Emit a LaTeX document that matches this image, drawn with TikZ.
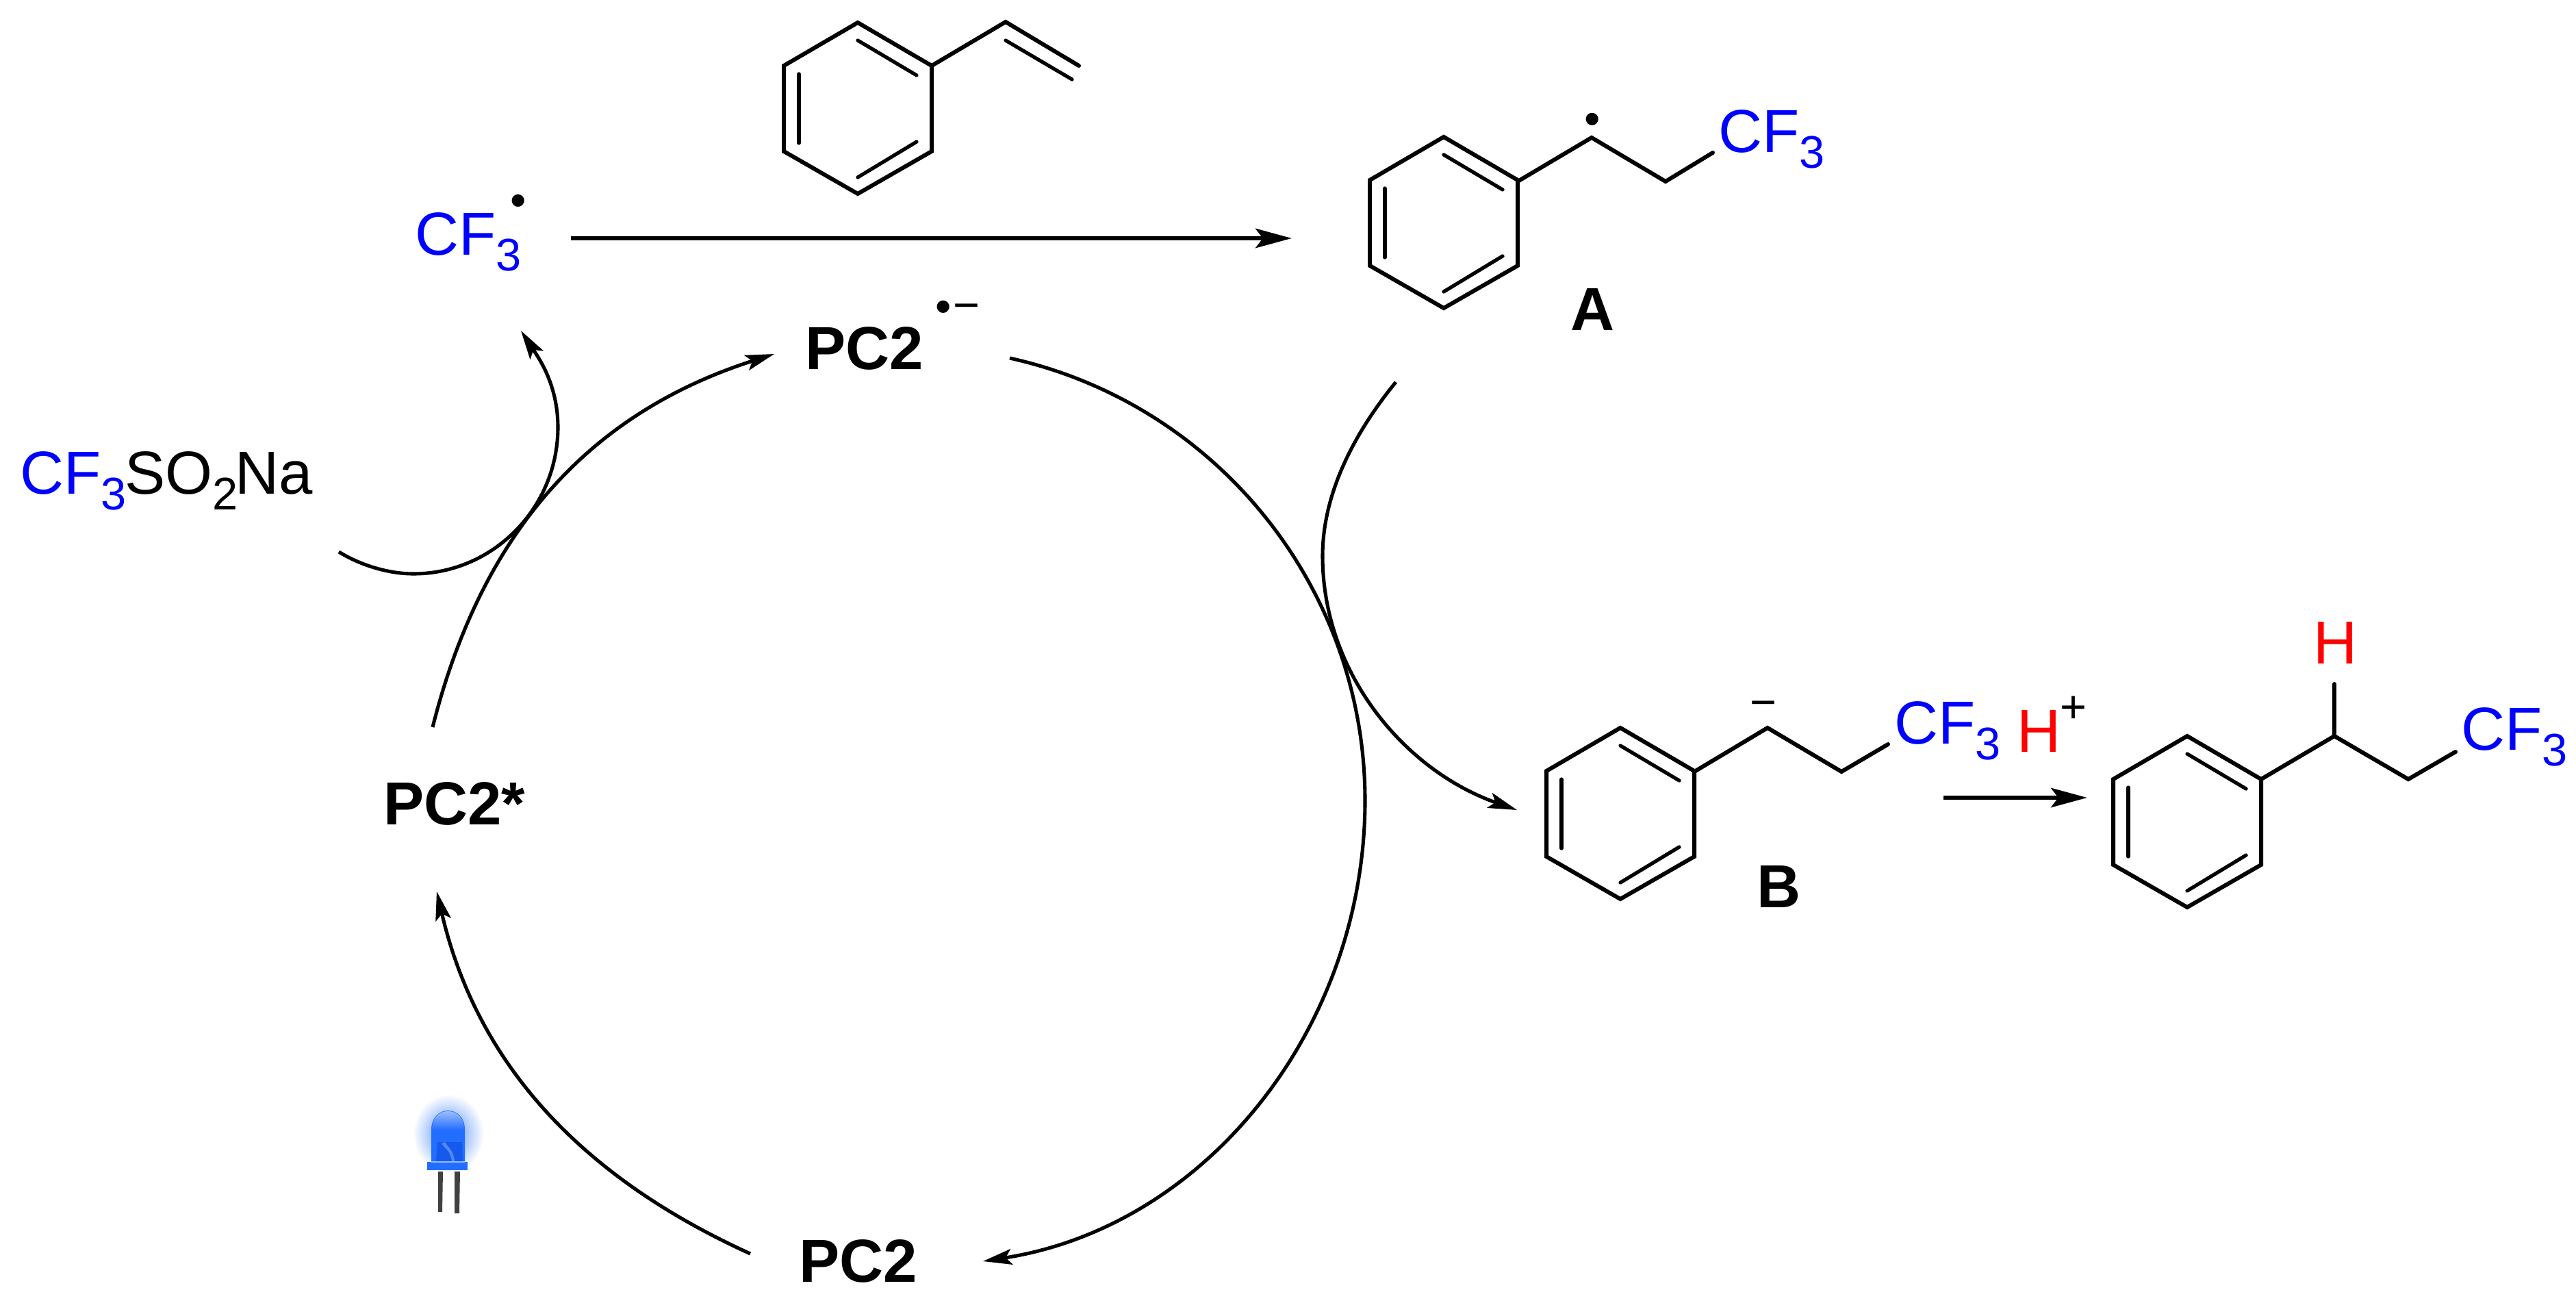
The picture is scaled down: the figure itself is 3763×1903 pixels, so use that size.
\documentclass[tikz,border=0pt]{standalone}
\usepackage{fontspec}
\setmainfont{Liberation Sans}
\usetikzlibrary{arrows.meta,shadings}
\definecolor{cfblue}{RGB}{0,0,255}
\definecolor{hred}{RGB}{255,0,0}
\definecolor{ledblue}{RGB}{35,110,255}
\definecolor{leddark}{RGB}{22,90,235}
\newcommand\lowered[1]{\raisebox{-13.6pt}{\fontsize{38}{40}\selectfont #1}}
\newcommand\cfthree{\textcolor{cfblue}{CF\lowered{3}}}
\tikzset{
  x=0.02cm,y=-0.02cm,
  bond/.style={line width=3.4pt,line join=miter,line cap=round},
  inner bond/.style={line width=3pt,line cap=round},
  straight arrow/.style={line width=3.9pt,-{Stealth[length=30pt,width=16pt,inset=6pt]}},
  curve arrow/.style={line width=2.9pt,-{Stealth[length=24pt,width=13pt,inset=5pt]}},
  chem/.style={inner sep=0pt,anchor=base west,font=\fontsize{50.5}{60}\selectfont},
  tag/.style={chem,font=\fontsize{50.5}{60}\selectfont\bfseries},
  mark sign/.style={inner sep=0pt,anchor=center,font=\fontsize{38}{40}\selectfont},
  benzene/.pic={
    \draw[bond] (0,0) -- (108,63) -- (108,188) -- (0,250) -- (-108,188) -- (-108,63) -- cycle;
    \draw[inner bond] (0,26) -- (86,77);
    \draw[inner bond] (-86,75) -- (-86,176);
    \draw[inner bond] (86,174) -- (0,226);
  }
}
\begin{document}
\begin{tikzpicture}
\useasboundingbox (0,0) rectangle (3763,1903);

% styrene
\pic at (1253,33) {benzene};
\coordinate (s1) at (1361,96);
\coordinate (s2) at (1469,32);
\coordinate (s3) at (1576,96);
\coordinate (s4) at (1469,59);
\coordinate (s5) at (1566,116);
\draw[bond] (s1) -- (s2) -- (s3);
\draw[inner bond] (s4) -- (s5);

% radical A
\pic at (2109,200) {benzene};
\coordinate (a1) at (2217,265);
\coordinate (a2) at (2325,201);
\coordinate (a3) at (2433,265);
\coordinate (a4) at (2502,223);
\draw[bond] (a1) -- (a2) -- (a3) -- (a4);
\node[chem] (acf) at (2510,222) {\cfthree};
\node[mark sign] (adot) at (2326,181) {•};
\node[tag] (alab) at (2294,482) {A};

% anion B
\pic at (2367,1063) {benzene};
\coordinate (b1) at (2475,1127);
\coordinate (b2) at (2582,1063);
\coordinate (b3) at (2690,1127);
\coordinate (b4) at (2758,1087);
\draw[bond] (b1) -- (b2) -- (b3) -- (b4);
\node[chem] (bcf) at (2767,1086) {\cfthree};
\node[mark sign] (bminus) at (2576,1036) {−};
\node[tag] (blab) at (2566,1325) {B};

% H+
\node[chem] (hplus) at (2946,1098) {\textcolor{hred}{H}};
\node[mark sign] (plus) at (3029,1036) {+};

% product
\pic at (3195,1075) {benzene};
\coordinate (c1) at (3303,1138);
\coordinate (c2) at (3410,1075);
\coordinate (c3) at (3518,1138);
\coordinate (c4) at (3587,1098);
\coordinate (c5) at (3410,999);
\draw[bond] (c1) -- (c2) -- (c3) -- (c4);
\draw[bond] (c2) -- (c5);
\node[chem] (ccf) at (3595,1095) {\cfthree};
\node[chem] (chh) at (3379,969) {\textcolor{hred}{H}};

% CF3 radical and sulfinate
\node[chem] (cfrad) at (606,372) {\cfthree};
\node[mark sign] (raddot) at (757,300) {•};
\node[chem] (sulf) at (29,721) {\cfthree\kern-1.5pt SO\lowered{2}\kern-2pt Na};

% catalyst labels
\node[tag] (pcrad) at (1176,539) {PC2};
\node[mark sign] (pcdot) at (1378,455) {•};
\node[mark sign] (pcminus) at (1412,456) {−};
\node[tag] (pcstar) at (560,1204) {PC2*};
\node[tag] (pc) at (1167,1872) {PC2};

% straight arrows
\coordinate (m1) at (834,348);
\coordinate (m2) at (1887,348);
\draw[straight arrow] (m1) -- (m2);
\coordinate (n1) at (2839,1165);
\coordinate (n2) at (3049,1165);
\draw[straight arrow] (n1) -- (n2);

% catalytic cycle
\coordinate (k1) at (1475,523);
\coordinate (k2) at (1994,1169);
\coordinate (k3) at (1436,1842);
\draw[curve arrow] (k1) .. controls (1778,590) and (1994,859) .. (k2)
  .. controls (1994,1500) and (1763,1791) .. (k3);
\coordinate (l1) at (1096,1831);
\coordinate (l2) at (638,1302);
\draw[curve arrow] (l1) .. controls (856,1722) and (698,1560) .. (l2);
\coordinate (j1) at (632,1062);
\coordinate (j2) at (1131,517);
\draw[curve arrow] (j1) .. controls (703,780) and (858,604) .. (j2);

% sulfinate to CF3 radical
\coordinate (f1) at (495,806);
\coordinate (f2) at (604,838);
\coordinate (f3) at (815,624);
\coordinate (f4) at (761,483);
\draw[curve arrow] (f1) .. controls (524,824) and (565,838) .. (f2)
  .. controls (720,838) and (815,742) .. (f3)
  .. controls (815,560) and (785,520) .. (f4);

% A to B
\coordinate (g1) at (2039,558);
\coordinate (g2) at (1932,812);
\coordinate (g3) at (2216,1183);
\draw[curve arrow] (g1) .. controls (1982,628) and (1932,717) .. (g2)
  .. controls (1932,982) and (2051,1125) .. (g3);

% LED
\shade[inner color=ledblue!80!white,middle color=ledblue!40!white,outer color=white,shading=radial]
  (655,1656) ellipse (52 and 58);
\fill[ledblue] (630,1697) -- (630,1650)
  .. controls (630,1632) and (642,1622) .. (654,1622)
  .. controls (668,1622) and (679,1632) .. (679,1650) -- (679,1697) -- cycle;
\shade[top color=ledblue!45!white,bottom color=ledblue]
  (631,1650) .. controls (631,1632) and (642,1623) .. (654,1623)
  .. controls (668,1623) and (678,1632) .. (678,1650) -- cycle;
\fill[leddark] (639,1668) -- (675,1668) -- (676,1696) -- (637,1696) -- cycle;
\fill[ledblue!80!white] (645,1670) .. controls (650,1678) and (658,1680) .. (660,1696)
  -- (664,1696) .. controls (662,1678) and (654,1676) .. (650,1668) -- cycle;
\fill[ledblue] (624,1697) rectangle (683,1709);
\fill[ledblue!50!white] (630,1696) rectangle (679,1698);
\fill[black!75] (640,1711) -- (647,1711) -- (646,1770) -- (640,1770) -- cycle;
\fill[black!75] (664,1711) -- (672,1711) -- (671,1772) -- (664,1772) -- cycle;
\end{tikzpicture}
\end{document}
